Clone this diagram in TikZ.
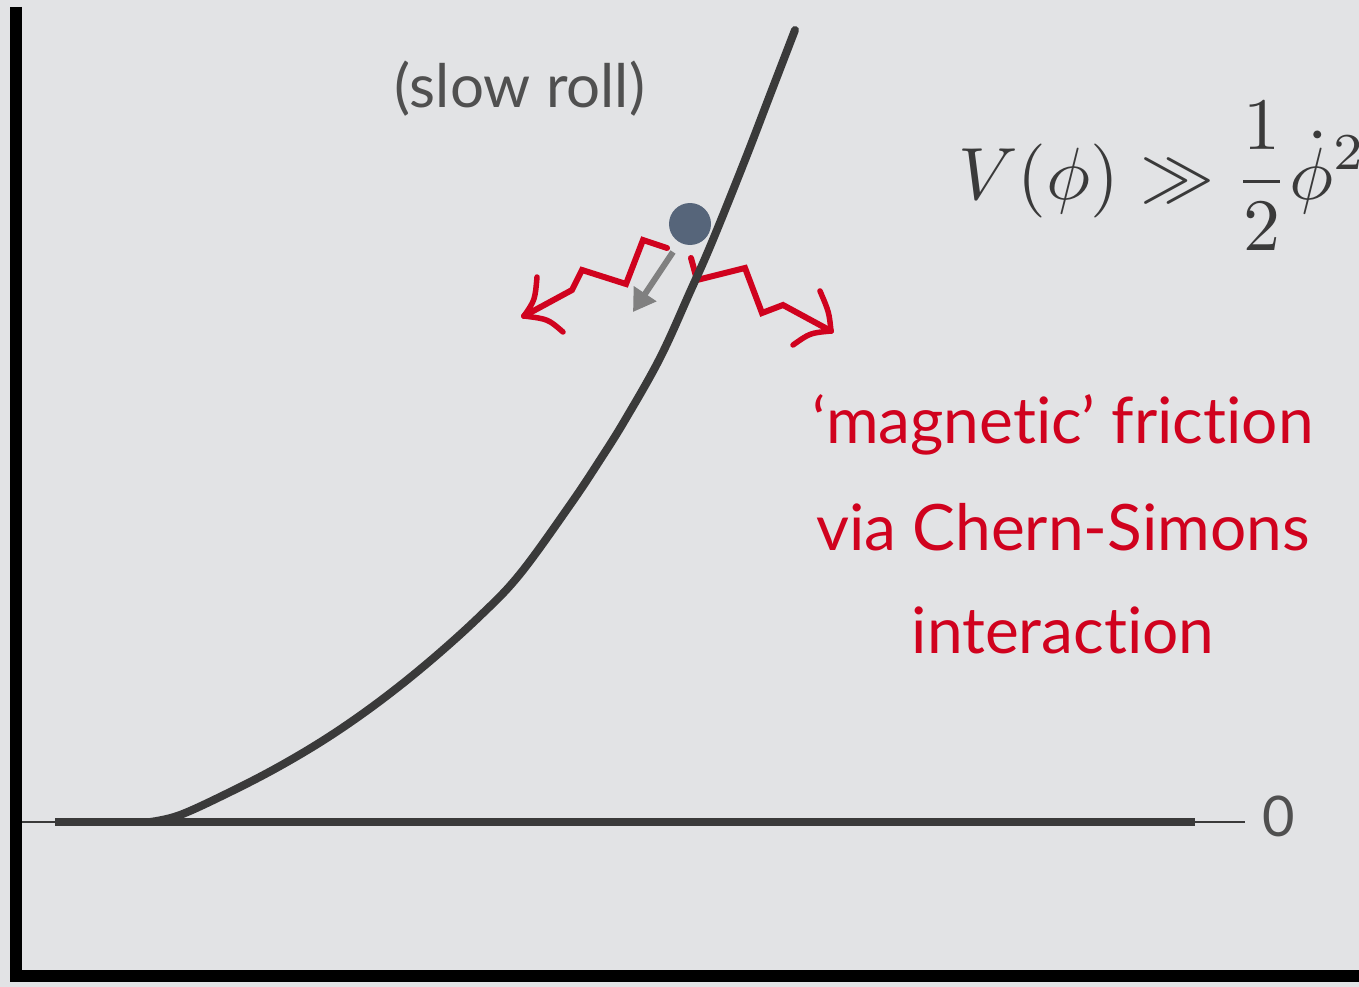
\documentclass[tikz,border=0pt]{standalone}
\usepackage{graphicx}
\usepackage{fontspec}
\setmainfont{Lato}[Ligatures=NoCommon]
\usetikzlibrary{arrows.meta}
\definecolor{bg}{RGB}{226,227,229}
\definecolor{chalk}{RGB}{58,58,58}
\definecolor{txtgray}{RGB}{80,80,80}
\definecolor{fred}{RGB}{208,2,30}
\definecolor{ball}{RGB}{86,101,122}
\definecolor{agray}{RGB}{128,128,128}
\tikzset{
  axisline/.style={black, line width=12pt},
  chalkline/.style={chalk, line width=8pt, line cap=round},
  zig/.style={fred, line width=6pt, line join=miter, line cap=round},
  barb/.style={fred, line width=5.5pt, line cap=round},
  lbl/.style={inner sep=0pt, anchor=base},
}
\begin{document}
\begin{tikzpicture}[x=1pt,y=-1pt]
\fill[bg] (0,0) rectangle (1359,987);
\useasboundingbox (0,0) rectangle (1359,987);
% axes
\coordinate (ytop) at (16,7);
\coordinate (orig) at (16,976);
\coordinate (xend) at (1359,976);
\draw[axisline] (ytop) -- (orig) -- (xend);
% zero line
\coordinate (z0) at (22,822);
\coordinate (z1) at (55,822);
\coordinate (z2) at (1195,822);
\coordinate (z3) at (1245,822);
\draw[chalk, line width=2pt] (z0) -- (z1);
\draw[chalk, line width=8pt] (z1) -- (z2);
\draw[chalk, line width=2.5pt] (z2) -- (z3);
% red zigzags
\coordinate (l0) at (667,248);
\coordinate (l1) at (643,240);
\coordinate (l2) at (626,284);
\coordinate (l3) at (582,270);
\coordinate (l4) at (572,290);
\coordinate (l5) at (524,316);
\draw[zig] (l0) -- (l1) -- (l2) -- (l3) -- (l4) -- (l5);
\coordinate (lc1) at (535,300);
\coordinate (lb1) at (537,277);
\coordinate (lc2) at (548,319);
\coordinate (lb2) at (563,332);
\draw[barb] (l5) .. controls (lc1) .. (lb1);
\draw[barb] (l5) .. controls (lc2) .. (lb2);
\coordinate (r0) at (691,258);
\coordinate (r1) at (697,280);
\coordinate (r2) at (745,268);
\coordinate (r3) at (762,313);
\coordinate (r4) at (783,305);
\coordinate (r5) at (831,331);
\draw[zig] (r0) -- (r1) -- (r2) -- (r3) -- (r4) -- (r5);
\coordinate (rc1) at (829,312);
\coordinate (rb1) at (820,291);
\coordinate (rc2) at (810,333);
\coordinate (rb2) at (793,345);
\draw[barb] (r5) .. controls (rc1) .. (rb1);
\draw[barb] (r5) .. controls (rc2) .. (rb2);
% potential curve
\draw[chalkline] plot[smooth, tension=0.6] coordinates {
 (150,822) (180,815) (230,792) (280,766) (330,736) (380,701) (430,661)
 (480,616) (520,574) (570,505) (600,460) (625,420) (660,358) (690,292)
 (712,242) (745,160) (770,95) (795,30)};
% ball and arrow
\node[circle, fill=ball, minimum size=42pt, inner sep=0pt] (b) at (690,224) {};
\coordinate (a0) at (673,252);
\coordinate (a1) at (633,312);
\draw[agray, line width=6pt, -{Triangle[length=22pt,width=26pt]}] (a0) -- (a1);
% texts
\node[lbl, txtgray, font=\fontsize{60}{66}\selectfont] (sr) at (520,108) {(slow roll)};
\node[lbl, anchor=base west, color=chalk] (eq) at (958,200)
  {\scalebox{7.4}{$\displaystyle V(\phi)\gg\frac{1}{2}\dot{\phi}^{2}$}};
\node[lbl, fred, font=\fontsize{64}{70}\selectfont] (t1) at (1063,443) {‘magnetic’ friction};
\node[lbl, fred, font=\fontsize{64}{70}\selectfont] (t2) at (1063,550) {via Chern-Simons};
\node[lbl, fred, font=\fontsize{64}{70}\selectfont] (t3) at (1063,653) {interaction};
\node[lbl, txtgray, font=\fontsize{56}{60}\selectfont] (zero) at (1279,836) {0};
\end{tikzpicture}
\end{document}
